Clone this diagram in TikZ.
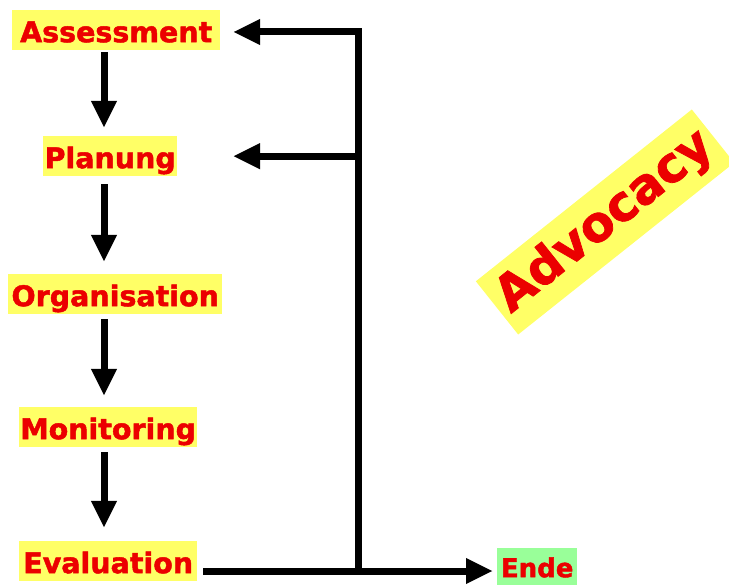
\documentclass[tikz,border=0pt]{standalone}
\usepackage{fontspec}
\newfontfamily\labfont{DejaVu Sans Bold}[FakeBold=1.6]
\usetikzlibrary{arrows.meta,calc}
\definecolor{boxyellow}{RGB}{255,255,102}
\definecolor{boxgreen}{RGB}{153,255,153}
\definecolor{txtred}{RGB}{235,0,0}
\tikzset{
  stage/.style={fill=boxyellow, text=txtred, font=\labfont\fontsize{28.5}{30}\selectfont,
    inner xsep=0pt, inner ysep=6pt, text height=26pt, text depth=2pt, anchor=north west},
  flow/.style={line width=7pt, -{Triangle[width=24pt,length=27pt]}}
}
\begin{document}
\begin{tikzpicture}[x=1pt,y=1pt]
\useasboundingbox (0,0) rectangle (729,-585);
\node[stage, minimum width=208pt] (A) at (12,-10) {Assessment};
\node[stage, minimum width=134pt] (P) at (43,-136) {Planung};
\node[stage, minimum width=214pt] (O) at (8,-274) {Organisation};
\node[stage, minimum width=178pt] (M) at (19,-407) {Monitoring};
\node[stage, minimum width=178pt] (E) at (19,-541) {Evaluation};
\node[stage, fill=boxgreen, minimum width=80pt, text height=23pt, text depth=5pt,
  font=\labfont\fontsize{26}{28}\selectfont] (N) at (497,-548) {Ende};
\node[fill=boxyellow, text=txtred, font=\labfont\fontsize{49}{52}\selectfont,
  rotate=38.5, minimum width=276pt, minimum height=68pt, inner sep=0pt] (adv) at (605,-222) {Advocacy};
\coordinate (col) at (104,0);
\coordinate (tipx) at (233,0);
\coordinate (top) at (358,-32);
\coordinate (bot) at (358,-571);
\draw[flow, shorten <=2pt, shorten >=8pt] (A.south -| col) -- (P.north -| col);
\draw[flow, shorten <=8pt, shorten >=12pt] (P.south -| col) -- (O.north -| col);
\draw[flow, shorten <=5pt, shorten >=11pt] (O.south -| col) -- (M.north -| col);
\draw[flow, shorten <=5pt, shorten >=13pt] (M.south -| col) -- (E.north -| col);
\draw[flow] ($(E.east |- bot)+(6,0)$) -- (bot) -- (top) -- (tipx |- top);
\draw[flow] (top |- P.east) -- (tipx |- P.east);
\draw[flow, shorten >=4pt] (bot) -- (N.west |- bot);
\end{tikzpicture}
\end{document}
